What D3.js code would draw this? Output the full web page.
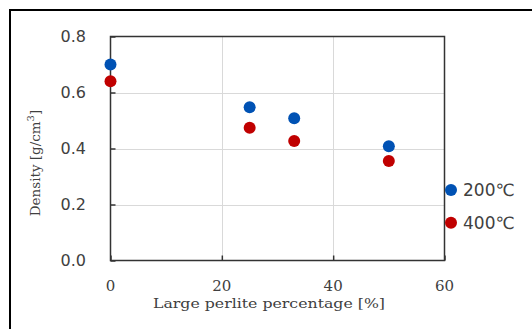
<!DOCTYPE html>
<meta charset="utf-8">
<style>
  body { margin: 0; background: #fff; }
  .ylab { font-family: "DejaVu Sans", sans-serif; font-size: 16px; fill: #404040; }
  .xlab { font-family: "DejaVu Serif", serif; font-size: 15px; fill: #404040; }
  .title { font-family: "DejaVu Serif", serif; font-size: 13.5px; fill: #404040; }
  .legend text { font-family: "DejaVu Sans", sans-serif; font-size: 17px; fill: #404040; }
</style>
<body>
<script src="https://cdn.jsdelivr.net/npm/d3@7"></script>
<script>
  // data
  var xTicks = [0, 20, 40, 60];
  var yTicks = [0, 0.2, 0.4, 0.6, 0.8];
  var percent = [0, 25, 33, 50];
  var density200 = [0.70, 0.547, 0.508, 0.408];
  var density400 = [0.64, 0.474, 0.427, 0.355];
  var seriesNames = ["200℃", "400℃"];
  var colors = ["#0052b4", "#c00000"];

  var width = 532, height = 329;
  var plot = {left: 110.5, right: 444.5, top: 36.5, bottom: 260.5};

  var svg = d3.select("body").append("svg")
      .attr("width", width)
      .attr("height", height);

  // outer chart border (runs off the right and bottom)
  svg.append("rect")
      .attr("x", 10).attr("y", 10)
      .attr("width", 560).attr("height", 360)
      .attr("fill", "none")
      .attr("stroke", "#000")
      .attr("stroke-width", 2);

  var x = d3.scaleLinear().domain([0, 60]).range([plot.left, plot.right]);
  var y = d3.scaleLinear().domain([0, 0.8]).range([plot.bottom, plot.top]);

  // gridlines
  svg.append("g").selectAll("line")
      .data(yTicks.slice(1, -1))
      .enter().append("line")
      .attr("x1", plot.left).attr("x2", plot.right)
      .attr("y1", d => Math.round(y(d)) + 0.5).attr("y2", d => Math.round(y(d)) + 0.5)
      .attr("stroke", "#d9d9d9");
  svg.append("g").selectAll("line")
      .data(xTicks.slice(1, -1))
      .enter().append("line")
      .attr("y1", plot.top).attr("y2", plot.bottom)
      .attr("x1", d => Math.round(x(d)) + 0.5).attr("x2", d => Math.round(x(d)) + 0.5)
      .attr("stroke", "#d9d9d9");

  // axes with inward ticks
  svg.append("g")
      .attr("transform", "translate(" + plot.left + ",0)")
      .call(d3.axisRight(y).tickValues(yTicks).tickSize(5).tickFormat(""));
  svg.append("g")
      .attr("transform", "translate(0," + plot.bottom + ")")
      .call(d3.axisTop(x).tickValues(xTicks).tickSize(5).tickFormat(""));
  svg.selectAll(".domain").remove();
  svg.selectAll(".tick line").attr("stroke", "#333").attr("stroke-width", 1.5);

  // plot frame
  svg.append("rect")
      .attr("x", plot.left).attr("y", plot.top)
      .attr("width", plot.right - plot.left).attr("height", plot.bottom - plot.top)
      .attr("fill", "none")
      .attr("stroke", "#333")
      .attr("stroke-width", 1.5);

  // tick labels
  svg.append("g").selectAll("text")
      .data(yTicks)
      .enter().append("text")
      .attr("class", "ylab")
      .attr("x", 86)
      .attr("y", d => y(d))
      .attr("dy", "0.36em")
      .attr("text-anchor", "end")
      .text(d3.format(".1f"));
  svg.append("g").selectAll("text")
      .data(xTicks)
      .enter().append("text")
      .attr("class", "xlab")
      .attr("x", d => x(d))
      .attr("y", 291)
      .attr("text-anchor", "middle")
      .text(d => d);

  // axis titles
  svg.append("text")
      .attr("class", "title")
      .attr("x", 269).attr("y", 308)
      .attr("text-anchor", "middle")
      .attr("textLength", 232)
      .attr("lengthAdjust", "spacingAndGlyphs")
      .text("Large perlite percentage [%]");

  var yt = svg.append("text")
      .attr("class", "title")
      .attr("transform", "translate(40,163) rotate(-90)")
      .attr("text-anchor", "middle");
  yt.append("tspan").text("Density [g/cm");
  yt.append("tspan").attr("dy", -6).attr("font-size", "10px").text("3");
  yt.append("tspan").attr("dy", 6).text("]");

  // points
  [density200, density400].forEach(function(vals, s) {
      svg.append("g").selectAll("circle")
          .data(vals)
          .enter().append("circle")
          .attr("cx", (d, i) => x(percent[i]))
          .attr("cy", d => y(d))
          .attr("r", 6)
          .attr("fill", colors[s]);
  });

  // legend
  var legend = svg.append("g").attr("class", "legend")
      .selectAll("g")
      .data(seriesNames)
      .enter().append("g")
      .attr("transform", (d, i) => "translate(451," + (190 + i * 32.7) + ")");
  legend.append("circle").attr("r", 6).attr("fill", (d, i) => colors[i]);
  legend.append("text").attr("x", 12).attr("dy", "0.36em").text(d => d);
</script>
</body>
</html>
